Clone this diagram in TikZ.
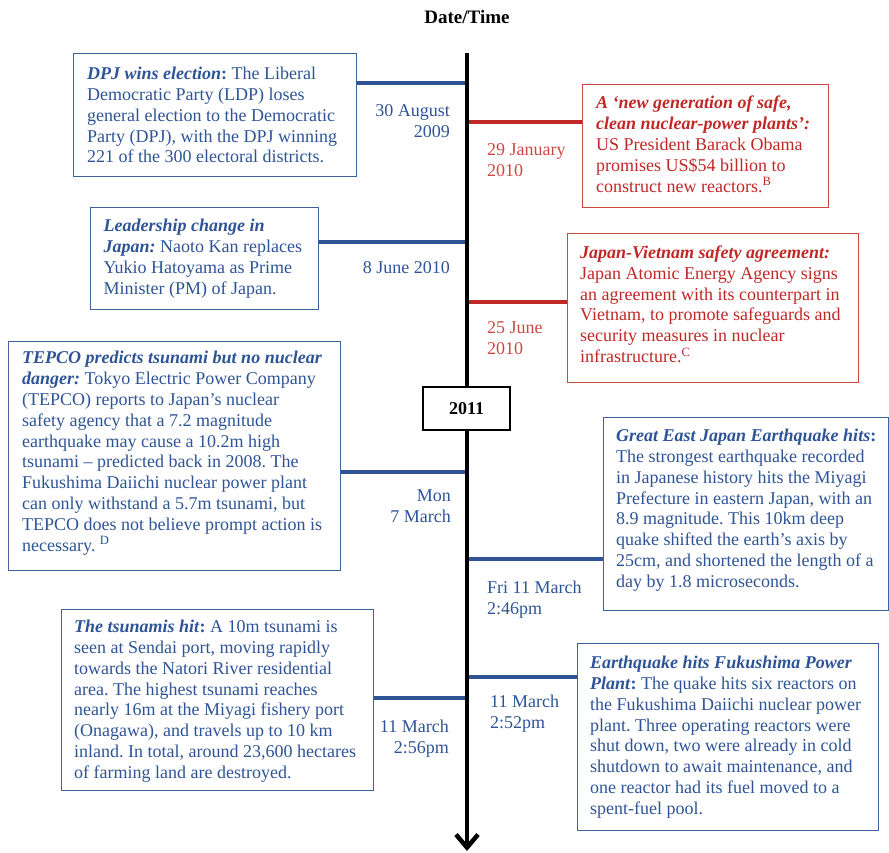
\documentclass[tikz,border=0pt]{standalone}
\usepackage{fontspec}
\setmainfont{Liberation Serif}
\usetikzlibrary{arrows.meta}
\definecolor{evblue}{RGB}{46,84,150}
\definecolor{evred}{RGB}{192,40,38}
\definecolor{evredlight}{RGB}{204,72,66}
\newcommand{\evhead}[1]{\textbf{\textit{#1}}}
\frenchspacing
\begin{document}
\begin{tikzpicture}[x=1pt,y=-1pt,
  every node/.style={font=\fontsize{18}{20.8}\selectfont, inner sep=0pt},
  bluebox/.style n args={2}{draw=evblue!92, line width=1.4pt, minimum width=#1pt, minimum height=#2pt, anchor=north west},
  redbox/.style n args={2}{draw=evredlight, line width=1.4pt, minimum width=#1pt, minimum height=#2pt, anchor=north west},
  bluetext/.style={text=evblue, align=left, anchor=west},
  redtext/.style={text=evred, align=left, anchor=west},
  bluelink/.style={draw=evblue, line width=3.6pt},
  redlink/.style={draw=evred, line width=3.6pt},
  leftdate/.style={text=evblue, align=right, anchor=east},
  rightdate/.style={text=evblue, align=left, anchor=west},
  reddate/.style={text=evredlight, align=left, anchor=west}
]
\useasboundingbox (0,0) rectangle (889,852);

% heading
\node[font=\bfseries\fontsize{19}{22}\selectfont] (title) at (467,17) {Date/Time};

% event boxes
\node[bluebox={283}{123}] (b1) at (73,53) {};
\node[redbox={246}{123}] (b2) at (582,84) {};
\node[bluebox={228}{102}] (b3) at (90,207) {};
\node[redbox={291}{149}] (b4) at (567,233) {};
\node[bluebox={332}{229}] (b5) at (8,341) {};
\node[bluebox={285}{193}] (b6) at (603,417) {};
\node[bluebox={312}{181}] (b7) at (61,609) {};
\node[bluebox={301}{187}] (b8) at (577,643) {};

% points on the time axis
\coordinate (axtop) at (467,53);
\coordinate (axbot) at (467,851);
\coordinate (c1) at (467,83);
\coordinate (c2) at (467,122);
\coordinate (c3) at (467,242);
\coordinate (c4) at (467,302);
\coordinate (c5) at (467,472);
\coordinate (c6) at (467,559);
\coordinate (c7) at (467,698);
\coordinate (c8) at (467,677);

% connectors
\draw[bluelink] (b1.east |- c1) -- (c1);
\draw[redlink] (b2.west |- c2) -- (c2);
\draw[bluelink] (b3.east |- c3) -- (c3);
\draw[redlink] (b4.west |- c4) -- (c4);
\draw[bluelink] (b5.east |- c5) -- (c5);
\draw[bluelink] (b6.west |- c6) -- (c6);
\draw[bluelink] (b7.east |- c7) -- (c7);
\draw[bluelink] (b8.west |- c8) -- (c8);

% time axis
\draw[line width=4.5pt, -{Straight Barb[length=13pt,width=22pt]}] (axtop) -- (axbot);

\node[draw=black, line width=1.4pt, fill=white, minimum width=87pt, minimum height=43pt,
      font=\bfseries\fontsize{18}{20.8}\selectfont] (y2011) at (466.5,408.5) {2011};

% box texts
\node[bluetext] (t1) at ([xshift=14pt]b1.west) {%
\evhead{DPJ wins election}\textbf{:} The Liberal\\
Democratic Party (LDP) loses\\
general election to the Democratic\\
Party (DPJ), with the DPJ winning\\
221 of the 300 electoral districts.};

\node[redtext] (t2) at ([xshift=14pt,yshift=2pt]b2.west) {%
\evhead{A ‘new generation of safe,}\\
\evhead{clean nuclear-power plants’:}\\
US President Barack Obama\\
promises US\$54 billion to\\
construct new reactors.\textsuperscript{B}};

\node[bluetext] (t3) at ([xshift=13.5pt]b3.west) {%
\evhead{Leadership change in}\\
\evhead{Japan:} Naoto Kan replaces\\
Yukio Hatoyama as Prime\\
Minister (PM) of Japan.};

\node[redtext] (t4) at ([xshift=13pt,yshift=4pt]b4.west) {%
\evhead{Japan-Vietnam safety agreement:}\\
Japan Atomic Energy Agency signs\\
an agreement with its counterpart in\\
Vietnam, to promote safeguards and\\
security measures in nuclear\\
infrastructure.\textsuperscript{C}};

\node[bluetext] (t5) at ([xshift=14pt,yshift=3pt]b5.west) {%
\evhead{TEPCO predicts tsunami but no nuclear}\\
\evhead{danger:} Tokyo Electric Power Company\\
(TEPCO) reports to Japan’s nuclear\\
safety agency that a 7.2 magnitude\\
earthquake may cause a 10.2m high\\
tsunami -- predicted back in 2008. The\\
Fukushima Daiichi nuclear power plant\\
can only withstand a 5.7m tsunami, but\\
TEPCO does not believe prompt action is\\
necessary. \textsuperscript{D}};

\node[bluetext] (t6) at ([xshift=13pt,yshift=4pt]b6.west) {%
\evhead{Great East Japan Earthquake hits}\textbf{:}\\
The strongest earthquake recorded\\
in Japanese history hits the Miyagi\\
Prefecture in eastern Japan, with an\\
8.9 magnitude. This 10km deep\\
quake shifted the earth’s axis by\\
25cm, and shortened the length of a\\
day by 1.8 microseconds.};

\node[bluetext] (t7) at ([xshift=13pt,yshift=-1pt]b7.west) {%
\evhead{The tsunamis hit}\textbf{:} A 10m tsunami is\\
seen at Sendai port, moving rapidly\\
towards the Natori River residential\\
area. The highest tsunami reaches\\
nearly 16m at the Miyagi fishery port\\
(Onagawa), and travels up to 10 km\\
inland. In total, around 23,600 hectares\\
of farming land are destroyed.};

\node[bluetext] (t8) at ([xshift=13pt]b8.west) {%
\evhead{Earthquake hits Fukushima Power}\\
\evhead{Plant}\textbf{:} The quake hits six reactors on\\
the Fukushima Daiichi nuclear power\\
plant. Three operating reactors were\\
shut down, two were already in cold\\
shutdown to await maintenance, and\\
one reactor had its fuel moved to a\\
spent-fuel pool.};

% dates
\node[leftdate] (d1) at (450,121) {30 August\\2009};
\node[reddate] (d2) at (487,160) {29 January\\2010};
\node[leftdate] (d3) at (450,268) {8 June 2010};
\node[reddate] (d4) at (487,338) {25 June\\2010};
\node[leftdate] (d5) at (451,506) {Mon\\7 March};
\node[rightdate] (d6) at (487,600) {Fri 11 March\\2:46pm};
\node[leftdate] (d7) at (449,739) {11 March\\2:56pm};
\node[rightdate] (d8) at (490,714) {11 March\\2:52pm};
\end{tikzpicture}
\end{document}
